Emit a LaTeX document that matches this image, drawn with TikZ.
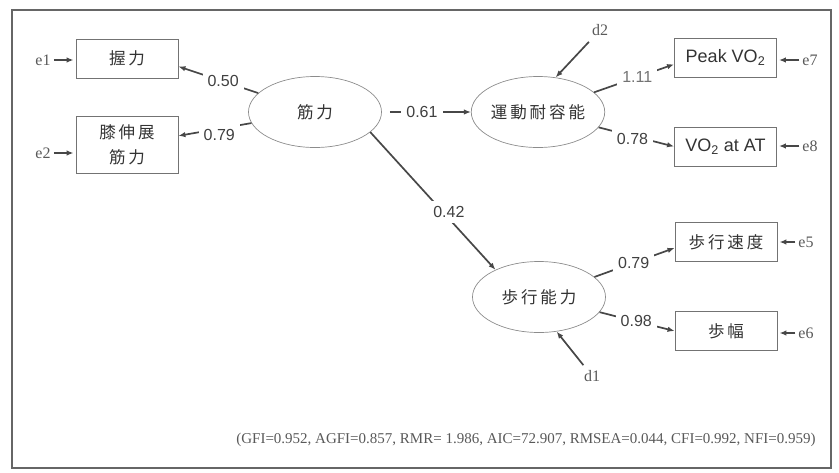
\documentclass[tikz,border=0pt]{standalone}
\usepackage{fontspec}
\setmainfont{Liberation Serif}
\newfontfamily\sansf{Liberation Sans}
\newfontfamily\jpf[LetterSpace=18]{Noto Sans CJK JP}
\usetikzlibrary{arrows.meta,shapes.geometric,calc}
\begin{document}
\begin{tikzpicture}[x=1pt,y=-1pt,
  conn/.style={draw=black!72, line width=1.7pt},
  arr/.style={conn, -{Latex[length=7pt,width=5.5pt]}},
  obs/.style={draw=black!55, line width=0.9pt, minimum width=102pt, minimum height=39pt, inner sep=0pt},
  lat/.style={ellipse, draw=black!45, line width=0.7pt, minimum width=133pt, minimum height=71pt, inner sep=0pt},
  coef/.style={fill=white, inner sep=5pt, font=\sansf\fontsize{16}{16}\selectfont, text=black!75},
  err/.style={font=\fontsize{16}{16}\selectfont, text=black!65, inner sep=3pt},
  jp/.style={font=\jpf\fontsize{16.5}{25}\selectfont, text=black!80},
  en/.style={font=\sansf\fontsize{18}{18}\selectfont, text=black!80}
]
\useasboundingbox (0,0) rectangle (839,472);
\draw[draw=black!60, line width=1.4pt] (12,10) rectangle (831,468);

% observed
\node[obs,jp] (grip) at (127,58.5) {握力};
\node[obs,jp,minimum height=57pt,align=center] (knee) at (127,144.5) {膝伸展\\筋力};
\node[obs,en] (peak) at (725.5,57.5) {Peak VO\textsubscript{2}};
\node[obs,en] (vo2at) at (725.5,146.5) {VO\textsubscript{2} at AT};
\node[obs,jp] (speed) at (726,242) {歩行速度};
\node[obs,jp] (stride) at (726,331) {歩幅};

% latent
\node[lat,jp] (kin) at (315,112) {筋力};
\node[lat,jp] (und) at (538,112) {運動耐容能};
\node[lat,jp] (walk) at (539,297) {歩行能力};

% errors
\node[err] (e1) at (43,60) {e1};
\node[err] (e2) at (43,153) {e2};
\node[err] (e7) at (810,60) {e7};
\node[err] (e8) at (810,146) {e8};
\node[err] (e5) at (806,242) {e5};
\node[err] (e6) at (806,333) {e6};
\node[err,inner sep=6pt] (d2) at (600,30) {d2};
\node[err,inner sep=5pt] (d1) at (592,376) {d1};

% endpoints on boxes
\coordinate (gripin) at ($(grip.south east)!0.3!(grip.north east)$);
\coordinate (kneein) at ($(knee.south east)!0.65!(knee.north east)$);
\coordinate (peakin) at ($(peak.north west)!0.67!(peak.south west)$);
\coordinate (speedin) at ($(speed.north west)!0.65!(speed.south west)$);

% structural paths
\draw[arr] (kin) -- (gripin) node[coef,pos=0.44] {0.50};
\draw[arr] (kin) -- (kneein) node[coef,pos=0.44,yshift=-6pt] {0.79};
\draw[arr,shorten <=8pt] (kin) -- (und) node[coef,pos=0.45] {0.61};
\draw[arr] (kin.-20) -- (walk.148) node[coef,pos=0.58,xshift=6pt] {0.42};
\draw[arr] (und) -- (peakin) node[coef,pos=0.54,text=black!55] {1.11};
\draw[arr] (und) -- (vo2at.west) node[coef,pos=0.45,yshift=-3pt] {0.78};
\draw[arr] (walk) -- (speedin) node[coef,pos=0.49] {0.79};
\draw[arr] (walk) -- (stride.west) node[coef,pos=0.49] {0.98};

% error arrows
\draw[arr,shorten >=2pt] (e1.east) -- (e1.east -| grip.west);
\draw[arr,shorten >=2pt] (e2.east) -- (e2.east -| knee.west);
\draw[arr,shorten >=2pt] (e7.west) -- (e7.west -| peak.east);
\draw[arr,shorten >=2pt] (e8.west) -- (e8.west -| vo2at.east);
\draw[arr,shorten >=2pt] (e5.west) -- (e5.west -| speed.east);
\draw[arr,shorten >=2pt] (e6.west) -- (e6.west -| stride.east);
\draw[arr] (d2) -- (und.63);
\draw[arr] (d1) -- (walk.-63);

% fit indices
\node[font=\fontsize{15}{15}\selectfont, text=black!65, inner sep=0pt] (fit) at (526,440)
  {(GFI=0.952, AGFI=0.857, RMR= 1.986, AIC=72.907, RMSEA=0.044, CFI=0.992, NFI=0.959)};
\end{tikzpicture}
\end{document}
